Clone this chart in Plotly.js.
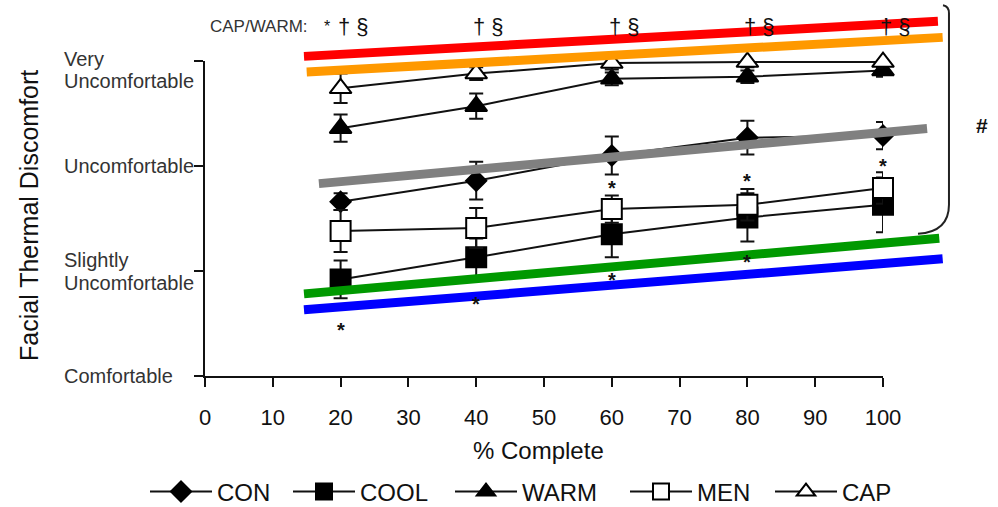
<!DOCTYPE html>
<html><head><meta charset="utf-8">
<script src="https://cdn.plot.ly/plotly-3.0.1.min.js"></script>
<style>html,body{margin:0;padding:0;background:#fff;} #chart{width:998px;height:507px;}</style>
</head><body><div id="chart"></div>
<script>
// ---- data ----
const pct = [20, 40, 60, 80, 100];
const seriesNames = ['CON', 'COOL', 'WARM', 'MEN', 'CAP'];
const conVals  = [2.66, 2.86, 3.10, 3.27, 3.29];
const conErr   = [0.08, 0.18, 0.18, 0.16, 0.13];
const coolVals = [1.92, 2.13, 2.35, 2.51, 2.63];
const coolErr  = [0.18, 0.18, 0.22, 0.23, 0.26];
const warmVals = [3.36, 3.57, 3.83, 3.85, 3.91];
const warmErr  = [0.13, 0.12, 0.06, 0.06, 0.06];
const menVals  = [2.38, 2.41, 2.59, 2.63, 2.79];
const menErr   = [0.20, 0.19, 0.13, 0.15, 0.15];
const capVals  = [3.74, 3.88, 3.98, 3.99, 3.99];
const capErr   = [0.14, 0.06, 0.06, 0.05, 0.05];

const xTickVals = [0, 10, 20, 30, 40, 50, 60, 70, 80, 90, 100];
const yTickVals = [1, 2, 3, 4];
const yLevelLabels = ['Comfortable', 'Slightly<br>Uncomfortable', 'Uncomfortable', 'Very<br>Uncomfortable'];

// significance marks
const capWarmLabel = 'CAP/WARM:';
const topMarks = ['† §', '† §', '† §', '† §', '† §'];
const starX = [20, 40, 60, 80, 60, 80, 100];
const starY = [1.48, 1.72, 1.95, 2.12, 2.83, 2.90, 3.04];

// hand-drawn trend lines [x0, y0, x1, y1] in data units
const trendColors = ['#ff0000', '#ff9900', '#808080', '#009900', '#0000ff'];
const trendX0 = [14.6, 15.0, 16.8, 14.6, 14.6];
const trendY0 = [4.044, 3.896, 2.832, 1.782, 1.630];
const trendX1 = [108.1, 108.8, 106.5, 108.3, 108.8];
const trendY1 = [4.378, 4.225, 3.357, 2.312, 2.116];

// ---- layout helpers ----
const X0 = 0, X1 = 100, Y0 = 1, Y1 = 4;
const PW = 998, PH = 507;
const L = 205, T = 61, W = 678, H = 315;
const px2x = p => (p - L) / W;          // pixel -> paper x
const py2y = p => (T + H - p) / H;      // pixel -> paper y
const dx = x => (x - X0) / (X1 - X0);   // data -> paper x
const dy = y => (y - Y0) / (Y1 - Y0);   // data -> paper y

const FONT = 'Liberation Sans, Arial, Helvetica, sans-serif';

const specs = [
  {y: conVals,  e: conErr,  sym: 'diamond',     size: 15.5, fill: '#000'},
  {y: coolVals, e: coolErr, sym: 'square',      size: 20,   fill: '#000'},
  {y: warmVals, e: warmErr, sym: 'triangle-up', size: 19,   fill: '#000'},
  {y: menVals,  e: menErr,  sym: 'square',      size: 20,   fill: '#fff'},
  {y: capVals,  e: capErr,  sym: 'triangle-up', size: 19,   fill: '#fff'}
];

const traces = specs.map((s, i) => ({
  type: 'scatter', mode: 'lines+markers', name: seriesNames[i],
  x: pct, y: s.y, cliponaxis: false,
  legend: i === 0 ? 'legend' : 'legend' + (i + 1),
  line: {color: '#111', width: 2},
  marker: {symbol: s.sym, size: s.size, color: s.fill, line: {color: '#000', width: 2}},
  error_y: {type: 'data', array: s.e, visible: true, color: '#111', thickness: 2, width: 7}
}));

const shapes = trendColors.map((c, i) => ({
  type: 'line', xref: 'paper', yref: 'paper', layer: 'above',
  x0: dx(trendX0[i]), y0: dy(trendY0[i]), x1: dx(trendX1[i]), y1: dy(trendY1[i]),
  line: {color: c, width: 9}
}));
// right-hand bracket
const bx = [108.85, 109.73, 109.73, 109.73, 109.73, 105.16];
const by = [4.53, 4.52, 4.454, 2.632, 2.374, 2.355];
shapes.push({
  type: 'path', xref: 'paper', yref: 'paper', layer: 'above',
  path: `M${dx(bx[0])},${dy(by[0])} Q${dx(bx[1])},${dy(by[1])} ${dx(bx[2])},${dy(by[2])} L${dx(bx[3])},${dy(by[3])} Q${dx(bx[4])},${dy(by[4])} ${dx(bx[5])},${dy(by[5])}`,
  line: {color: '#222', width: 2}
});

const annotations = [];
// y level labels (left aligned)
const lineOffsets = [[0], [11.5, -11.5], [0.5], [2, -20]];
yLevelLabels.forEach((lab, i) => {
  lab.split('<br>').forEach((ln, j) => {
    annotations.push({
      xref: 'paper', yref: 'y', x: px2x(62), y: yTickVals[i], yshift: lineOffsets[i][j],
      xanchor: 'left', yanchor: 'middle', text: ln, showarrow: false,
      font: {family: FONT, size: 20, color: '#333'}
    });
  });
});
// axis titles
annotations.push({
  xref: 'paper', yref: 'paper', x: px2x(29), y: py2y(216), text: 'Facial Thermal Discomfort',
  textangle: -90, showarrow: false, xanchor: 'center', yanchor: 'middle',
  font: {family: FONT, size: 25, color: '#111'}
});
annotations.push({
  xref: 'paper', yref: 'paper', x: px2x(538), y: py2y(450), text: '% Complete',
  showarrow: false, xanchor: 'center', yanchor: 'middle',
  font: {family: FONT, size: 24, color: '#111'}
});
// top labels
annotations.push({
  xref: 'paper', yref: 'paper', x: px2x(208), y: py2y(27), text: capWarmLabel,
  showarrow: false, xanchor: 'left', yanchor: 'middle',
  font: {family: FONT, size: 17, color: '#333'}
});
annotations.push({
  xref: 'paper', yref: 'paper', x: px2x(327), y: py2y(27), text: '*',
  showarrow: false, xanchor: 'center', yanchor: 'middle',
  font: {family: FONT, size: 16, color: '#111'}
});
pct.forEach((x, i) => annotations.push({
  xref: 'x', yref: 'paper', x: x, xshift: -5, y: py2y(27), text: topMarks[i],
  showarrow: false, xanchor: 'left', yanchor: 'middle',
  font: {family: FONT, size: 22, color: '#111'}
}));
starX.forEach((x, i) => annotations.push({
  xref: 'x', yref: 'y', x: x, y: starY[i], yshift: -4, text: '<b>*</b>',
  showarrow: false, xanchor: 'center', yanchor: 'middle',
  font: {family: FONT, size: 20, color: '#111'}
}));
annotations.push({
  xref: 'paper', yref: 'paper', x: px2x(982), y: py2y(125), text: '<b>#</b>',
  showarrow: false, xanchor: 'center', yanchor: 'middle',
  font: {family: FONT, size: 21, color: '#111'}
});

// legends (container-referenced so they do not push the plot margins)
const legendStarts = [150, 293, 455, 630, 775];
const legendCommon = {
  orientation: 'h', xref: 'container', yref: 'container',
  xanchor: 'left', yanchor: 'middle', y: (PH - 492) / PH,
  bgcolor: 'rgba(0,0,0,0)', borderwidth: 0, itemwidth: 62,
  font: {family: FONT, size: 24, color: '#111'}
};
const layout = {
  width: PW, height: PH,
  margin: {l: L, r: PW - L - W, t: T, b: PH - T - H},
  paper_bgcolor: '#fff', plot_bgcolor: '#fff',
  showlegend: true,
  xaxis: {
    range: [X0, X1], tickvals: xTickVals, ticks: 'outside', ticklen: 9, tickwidth: 2,
    tickcolor: '#111', showline: true, linecolor: '#111', linewidth: 2,
    showgrid: false, zeroline: false, ticklabelstandoff: 12, automargin: false,
    tickfont: {family: FONT, size: 22, color: '#111'}
  },
  yaxis: {
    range: [Y0, Y1], tickvals: yTickVals, showticklabels: false, ticks: 'outside',
    ticklen: 9, tickwidth: 2, tickcolor: '#111', showline: true, linecolor: '#111',
    linewidth: 2, showgrid: false, zeroline: false, automargin: false
  },
  shapes: shapes,
  annotations: annotations
};
legendStarts.forEach((p, i) => {
  layout[i === 0 ? 'legend' : 'legend' + (i + 1)] = Object.assign({}, legendCommon, {x: (p - 5) / PW});
});

Plotly.newPlot('chart', traces, layout, {displayModeBar: false, responsive: false});
</script>
</body></html>
